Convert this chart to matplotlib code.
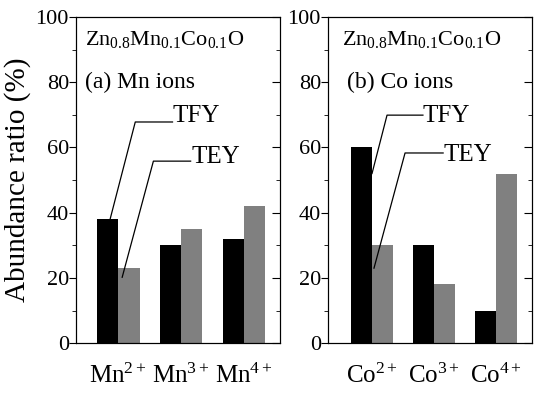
import numpy as np
import matplotlib
matplotlib.use('Agg')
import matplotlib.pyplot as plt
from matplotlib.ticker import MultipleLocator

plt.rcParams['font.family'] = 'Liberation Serif'
plt.rcParams['mathtext.fontset'] = 'custom'
plt.rcParams['mathtext.rm'] = 'Liberation Serif'
plt.rcParams['mathtext.it'] = 'Liberation Serif'

# data
mn_labels = [r'Mn$^{2+}$', r'Mn$^{3+}$', r'Mn$^{4+}$']
mn_tfy = [38, 30, 32]
mn_tey = [23, 35, 42]
co_labels = [r'Co$^{2+}$', r'Co$^{3+}$', r'Co$^{4+}$']
co_tfy = [60, 30, 10]
co_tey = [30, 18, 52]
formula = r'Zn$_{0.8}$Mn$_{0.1}$Co$_{0.1}$O'

fig = plt.figure(figsize=(5.42, 3.94), dpi=100)
ax1 = fig.add_axes([0.140, 0.129, 0.377, 0.828])
ax2 = fig.add_axes([0.605, 0.129, 0.377, 0.828])

w = 0.34
x = np.arange(3)


def draw_panel(ax, labels, tfy, tey, xlim):
    ax.bar(x - w / 2, tfy, w, color='black')
    ax.bar(x + w / 2, tey, w, color='#808080')
    ax.set_xlim(*xlim)
    ax.set_ylim(0, 100)
    ax.set_xticks(x)
    ax.set_xticklabels(labels, fontsize=18)
    ax.tick_params(axis='x', length=0, pad=15)
    ax.yaxis.set_major_locator(MultipleLocator(20))
    ax.yaxis.set_minor_locator(MultipleLocator(10))
    ax.tick_params(axis='y', which='major', direction='out', length=5, pad=0, labelsize=16)
    ax.tick_params(axis='y', which='minor', direction='out', length=3)
    # inward ticks on the right spine
    tw = ax.twinx()
    tw.set_ylim(0, 100)
    tw.yaxis.set_major_locator(MultipleLocator(20))
    tw.yaxis.set_minor_locator(MultipleLocator(10))
    tw.tick_params(axis='y', which='major', direction='in', length=6, labelright=False)
    tw.tick_params(axis='y', which='minor', direction='in', length=3)
    return tw


draw_panel(ax1, mn_labels, mn_tfy, mn_tey, (-0.672, 2.576))
draw_panel(ax2, co_labels, co_tfy, co_tey, (-0.71, 2.58))

ax1.set_ylabel('Abundance ratio (%)', fontsize=21, labelpad=3)

# panel texts
ax1.text(0.045, 0.915, formula, transform=ax1.transAxes, fontsize=16)
ax1.text(0.045, 0.80, '(a) Mn ions', transform=ax1.transAxes, fontsize=17, va='center')
ax2.text(0.069, 0.915, formula, transform=ax2.transAxes, fontsize=16)
ax2.text(0.093, 0.80, '(b) Co ions', transform=ax2.transAxes, fontsize=17, va='center')

# leader lines for TFY / TEY
ax1.plot([-0.128, 0.272, 0.864], [mn_tfy[0], 67.8, 67.8], color='black', lw=0.9)
ax1.text(0.864, 69.5, 'TFY', fontsize=18, va='center')
ax1.plot([0.064, 0.56, 1.152], [20.2, 55.8, 55.8], color='black', lw=0.9)
ax1.text(1.16, 57, 'TEY', fontsize=18, va='center')

ax2.plot([0.0, 0.242, 0.82], [52, 69.9, 69.9], color='black', lw=0.9)
ax2.text(0.82, 69.6, 'TFY', fontsize=18, va='center')
ax2.plot([0.032, 0.532, 1.145], [23, 58.3, 58.3], color='black', lw=0.9)
ax2.text(1.145, 57.7, 'TEY', fontsize=18, va='center')

fig.savefig('out.png', dpi=100)
